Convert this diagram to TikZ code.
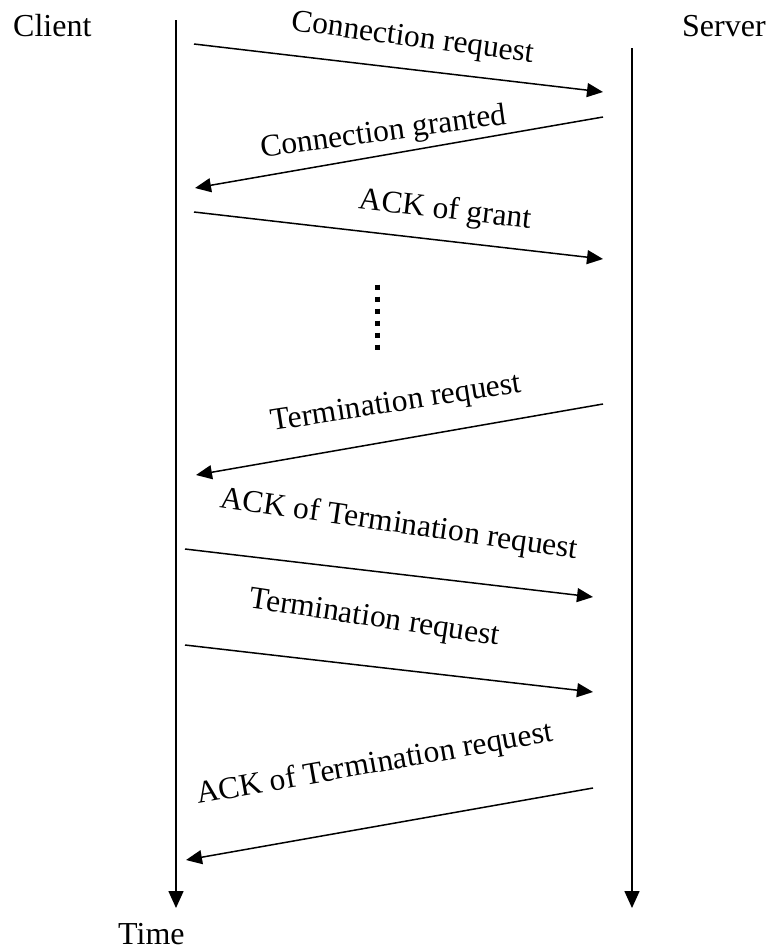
\documentclass[tikz,border=0pt]{standalone}
\usepackage{fontspec}
\setmainfont{Liberation Serif}
\usetikzlibrary{arrows.meta}
\tikzset{
  actor/.style={font=\fontsize{32}{38}\selectfont,inner sep=0pt,anchor=base west},
  msglab/.style={font=\fontsize{31.5}{38}\selectfont,inner sep=0pt,sloped,anchor=base},
  msg/.style={line width=1.5pt,-{Triangle[length=16pt,width=14pt]}},
  back/.style={line width=1.5pt,{Triangle[length=16pt,width=14pt]}-},
  life/.style={line width=1.6pt,-{Triangle[length=17pt,width=15pt]}},
}

\begin{document}
\begin{tikzpicture}[x=1pt,y=-1pt]
  \useasboundingbox (0,0) rectangle (771,951);
  \node[actor] (client) at (13,36) {Client};
  \node[actor] (server) at (682,36) {Server};
  \node[actor] (time) at (118,944) {Time};
  \coordinate (ctop) at (176,20);
  \coordinate (cbot) at (176,908);
  \coordinate (stop) at (632,48);
  \coordinate (sbot) at (632,908);
  \draw[life] (ctop) -- (cbot);
  \draw[life] (stop) -- (sbot);
  \coordinate (c1) at (194,44);
  \coordinate (s1) at (603,92);
  \coordinate (c2) at (195,188);
  \coordinate (s2) at (603,117);
  \coordinate (c3) at (194,212);
  \coordinate (s3) at (603,259);
  \coordinate (c5) at (196,475);
  \coordinate (s5) at (603,404);
  \coordinate (c6) at (185,549);
  \coordinate (s6) at (593,597);
  \coordinate (c7) at (185,645);
  \coordinate (s7) at (593,692);
  \coordinate (c8) at (186,860);
  \coordinate (s8) at (593,788);
  \draw[msg] (c1) -- node[msglab,pos=0.525,yshift=23pt,rotate=-1] {Connection request} (s1);
  \draw[back] (c2) -- node[msglab,pos=0.47,yshift=14pt,rotate=-2] {Connection granted} (s2);
  \draw[msg] (c3) -- node[msglab,pos=0.605,yshift=22pt] {ACK of grant} (s3);
  \draw[line width=5pt,dash pattern=on 5pt off 7pt] (377,284.5) -- (377,352);
  \draw[back] (c5) -- node[msglab,pos=0.507,yshift=28pt,rotate=-1] {Termination request} (s5);
  \draw[msg] (c6) -- node[msglab,pos=0.51,yshift=41pt,rotate=-1.5] {ACK of Termination request} (s6);
  \draw[msg] (c7) -- node[msglab,pos=0.45,yshift=40pt,rotate=-2] {Termination request} (s7);
  \draw[back] (c8) -- node[msglab,pos=0.49,yshift=53pt] {ACK of Termination request} (s8);
\end{tikzpicture}
\end{document}
